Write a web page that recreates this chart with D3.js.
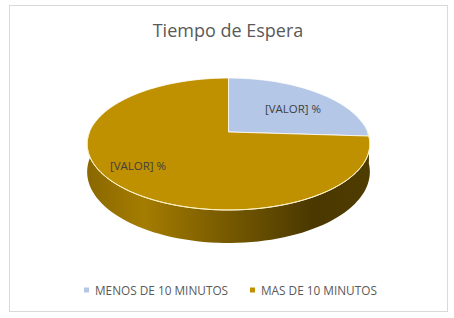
<!DOCTYPE html>
<html>
<head>
<meta charset="utf-8">
<script src="https://cdn.jsdelivr.net/npm/d3@7"></script>
<style>
  html, body { margin: 0; padding: 0; background: #fff; }
  svg { display: block; }
</style>
</head>
<body>
<div id="chart"></div>
<script>
// datos del gráfico
const categories = ["MENOS DE 10 MINUTOS", "MAS DE 10 MINUTOS"];
const values = [26, 74];
const labels = ["[VALOR] %", "[VALOR] %"];
const colors = ["#B4C7E7", "#BF9000"];

const width = 454, height = 318;
const svg = d3.select("#chart").append("svg")
    .attr("width", width)
    .attr("height", height);

// marco del gráfico
svg.append("rect")
    .attr("x", 9.5).attr("y", 5.5)
    .attr("width", 438).attr("height", 306)
    .attr("fill", "#fff")
    .attr("stroke", "#d9d9d9");

svg.append("text")
    .attr("x", 228).attr("y", 37)
    .attr("text-anchor", "middle")
    .attr("font-family", "'Open Sans', sans-serif")
    .attr("font-size", "18px")
    .attr("fill", "#595959")
    .text("Tiempo de Espera");

// proyección simple con perspectiva
const cx = 228.5, cy = 132, Rx = 139, Ry = 63.8, k = 0.182, depth = 27;
function proj(theta, r, dz) {
    const u = r * Math.sin(theta);
    const v = -r * Math.cos(theta);
    const s = 1 / (1 - k * v);
    return [cx + Rx * u * s, cy + Ry * v * s + (dz || 0) * s];
}

const pie = d3.pie().sort(null).value(d => d)(values);

const defs = svg.append("defs");
const grad = defs.append("linearGradient")
    .attr("id", "sideGold")
    .attr("gradientUnits", "userSpaceOnUse")
    .attr("x1", 87).attr("x2", 370).attr("y1", 0).attr("y2", 0);
[[0, "#8a6800"], [0.2, "#a47c00"], [0.55, "#6e5300"], [0.8, "#4a3800"], [1, "#4f3c00"]]
    .forEach(s => grad.append("stop").attr("offset", s[0]).attr("stop-color", s[1]));
const gradB = defs.append("linearGradient")
    .attr("id", "sideBlue")
    .attr("gradientUnits", "userSpaceOnUse")
    .attr("x1", 87).attr("x2", 370).attr("y1", 0).attr("y2", 0);
[[0, "#8a9bb5"], [1, "#4a5566"]]
    .forEach(s => gradB.append("stop").attr("offset", s[0]).attr("stop-color", s[1]));
const sideFill = ["url(#sideBlue)", "url(#sideGold)"];

// lateral: solo la parte frontal (entre 90° y 270°)
const sideG = svg.append("g");
pie.forEach((d, i) => {
    const a0 = Math.max(d.startAngle, Math.PI / 2 - 0.15);
    const a1 = Math.min(d.endAngle, 3 * Math.PI / 2 + 0.15);
    if (a1 <= a0) return;
    const n = 80;
    const top = d3.range(n + 1).map(j => proj(a0 + (a1 - a0) * j / n, 1, 0));
    const bot = d3.range(n + 1).map(j => proj(a0 + (a1 - a0) * j / n, 1, depth)).reverse();
    sideG.append("path")
        .attr("d", d3.line()(top.concat(bot)) + "Z")
        .attr("fill", sideFill[i]);
});

// cara superior
const topG = svg.append("g");
pie.forEach((d, i) => {
    const n = 120;
    const pts = [proj(0, 0)].concat(
        d3.range(n + 1).map(j => proj(d.startAngle + (d.endAngle - d.startAngle) * j / n, 1)));
    topG.append("path")
        .attr("d", d3.line()(pts) + "Z")
        .attr("fill", colors[i])
        .attr("stroke", "#fff")
        .attr("stroke-width", 0.8)
        .attr("stroke-linejoin", "round");
});

// brillo en el borde frontal
const edge = d3.range(0, 121).map(j => proj(Math.PI / 2 + Math.PI * j / 120, 1));
svg.append("path")
    .attr("d", d3.line()(edge))
    .attr("fill", "none")
    .attr("stroke", "#fff3c0")
    .attr("stroke-width", 1);

// etiquetas de datos
const labelPos = [[293, 113], [138, 170]];
svg.selectAll("text.lbl").data(labels).join("text")
    .attr("class", "lbl")
    .attr("x", (d, i) => labelPos[i][0])
    .attr("y", (d, i) => labelPos[i][1])
    .attr("text-anchor", "middle")
    .attr("font-family", "'Open Sans', sans-serif")
    .attr("font-size", "11.5px")
    .attr("fill", "#404040")
    .text(d => d);

// leyenda
const legendX = [84, 250];
const lg = svg.selectAll("g.leg").data(categories).join("g")
    .attr("class", "leg")
    .attr("transform", (d, i) => `translate(${legendX[i]},290)`);
lg.append("rect")
    .attr("x", 0).attr("y", -2.5)
    .attr("width", 5).attr("height", 5)
    .attr("fill", (d, i) => colors[i]);
lg.append("text")
    .attr("x", 11).attr("y", 4.5)
    .attr("font-family", "'Open Sans', sans-serif")
    .attr("font-size", "11.8px")
    .attr("fill", "#595959")
    .text(d => d);
</script>
</body>
</html>
